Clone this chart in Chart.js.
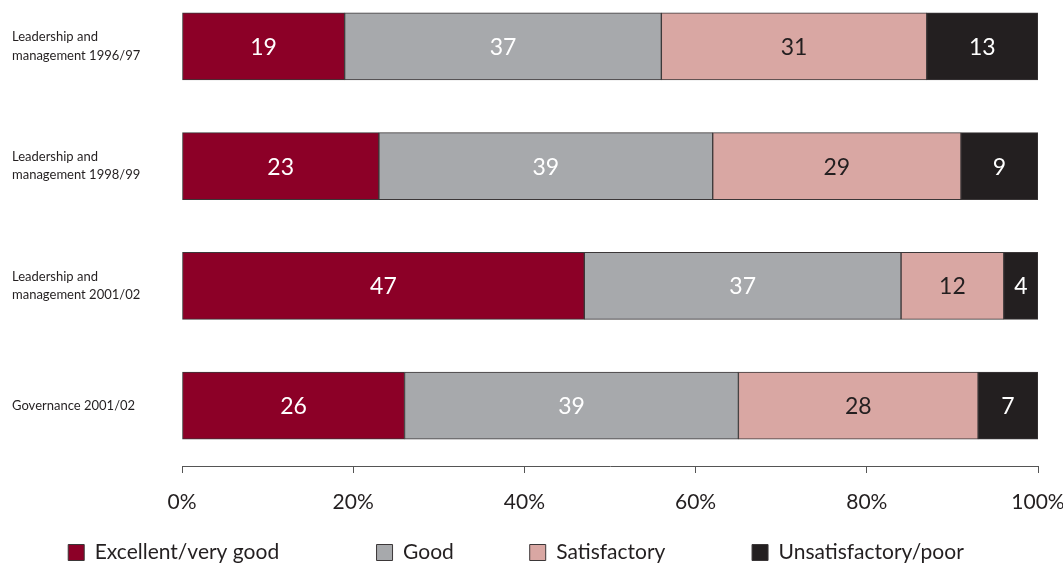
<!DOCTYPE html>
<html>
<head>
<meta charset="utf-8">
<script src="https://cdn.jsdelivr.net/npm/chart.js@4/dist/chart.umd.min.js"></script>
<style>
    html, body { margin: 0; padding: 0; background: #fff; }
    #wrap { width: 1063px; height: 567px; }
</style>
</head>
<body>
<div id="wrap"><canvas id="chart"></canvas></div>
<script>
'use strict';

// Data
const categories = [
    ['Leadership and', 'management 1996/97'],
    ['Leadership and', 'management 1998/99'],
    ['Leadership and', 'management 2001/02'],
    'Governance 2001/02',
];
const excellent = [19, 23, 47, 26];
const good = [37, 39, 37, 39];
const satisfactory = [31, 29, 12, 28];
const unsatisfactory = [13, 9, 4, 7];
const xTicks = [0, 20, 40, 60, 80, 100];

const FONT = 'Lato, "Open Sans", sans-serif';
const LEGEND_SIZE = 21;
const LEGEND_PAD = 6;
// distance from one legend box to the next one, as in the reference
const legendSteps = [306, 153, 220, 262];

const toPoints = (arr) => arr.map((v, i) => ({ x: v, y: i }));

const makeDataset = function (label, values, color, textColor) {
    return {
        label: label,
        data: toPoints(values),
        backgroundColor: color,
        borderColor: '#3b3738',
        borderWidth: 1,
        borderSkipped: false,
        barThickness: 67,
        textColor: textColor,
    };
};

// Draw the numbers inside each segment
const valueLabels = {
    id: 'valueLabels',
    afterDatasetsDraw(chart) {
        const ctx = chart.ctx;
        ctx.save();
        ctx.font = '23px ' + FONT;
        ctx.textAlign = 'center';
        ctx.textBaseline = 'middle';
        chart.data.datasets.forEach((ds, di) => {
            const meta = chart.getDatasetMeta(di);
            meta.data.forEach((bar, i) => {
                const cx = (bar.x + bar.base) / 2;
                ctx.fillStyle = ds.textColor;
                ctx.fillText(String(ds.data[i].x), cx, bar.y + 1);
            });
        });
        ctx.restore();
    },
};

// Pad legend texts with spaces so the items sit in the same columns
const legendLabels = function (chart) {
    const items = Chart.defaults.plugins.legend.labels.generateLabels(chart);
    const ctx = chart.ctx;
    ctx.save();
    ctx.font = LEGEND_SIZE + 'px ' + FONT;
    items.forEach((item, i) => {
        const target = legendSteps[i] - 16 - LEGEND_SIZE / 2 - LEGEND_PAD;
        let text = item.text;
        while (
            Math.abs(ctx.measureText(text + ' ').width - target) <
            Math.abs(ctx.measureText(text).width - target)
        ) {
            text += ' ';
        }
        item.text = text;
    });
    ctx.restore();
    return items;
};

const chart = new Chart(document.getElementById('chart'), {
    type: 'bar',
    data: {
        datasets: [
            makeDataset('Excellent/very good', excellent, '#8c0027', '#ffffff'),
            makeDataset('Good', good, '#a7a9ac', '#ffffff'),
            makeDataset('Satisfactory', satisfactory, '#d9a7a3', '#231f20'),
            makeDataset('Unsatisfactory/poor', unsatisfactory, '#231f20', '#ffffff'),
        ],
    },
    plugins: [valueLabels],
    options: {
        indexAxis: 'y',
        responsive: true,
        maintainAspectRatio: false,
        animation: false,
        layout: { padding: { left: 12, right: 0, top: 0, bottom: -6 } },
        plugins: {
            tooltip: { enabled: false },
            legend: {
                position: 'bottom',
                labels: {
                    font: { family: FONT, size: LEGEND_SIZE },
                    color: '#231f20',
                    boxWidth: 16,
                    boxHeight: 16,
                    padding: LEGEND_PAD,
                    generateLabels: legendLabels,
                },
            },
        },
        scales: {
            x: {
                stacked: true,
                min: 0,
                max: 100,
                afterBuildTicks: (axis) => {
                    axis.ticks = xTicks.map((v) => ({ value: v }));
                },
                ticks: {
                    callback: (v) => v + '%',
                    font: { family: FONT, size: 21 },
                    color: '#231f20',
                    padding: 17,
                    maxRotation: 0,
                },
                grid: {
                    drawOnChartArea: false,
                    tickLength: 7,
                    color: '#555',
                },
                border: { display: true, color: '#555' },
                afterFit: (axis) => {
                    axis.height = 70;
                    axis.paddingLeft = 0;
                    axis.paddingRight = 25;
                },
            },
            y: {
                type: 'linear',
                stacked: true,
                reverse: true,
                offset: false,
                bounds: 'data',
                min: -0.3875,
                max: 3.504,
                afterBuildTicks: (axis) => {
                    axis.ticks = categories.map((c, i) => ({ value: i }));
                },
                ticks: {
                    callback: (v) => categories[v],
                    font: { family: FONT, size: 13, lineHeight: 1.4 },
                    color: '#231f20',
                    crossAlign: 'far',
                    autoSkip: false,
                },
                grid: { display: false },
                border: { display: false },
                afterFit: (axis) => {
                    axis.width = 170;
                    axis.paddingTop = 0;
                    axis.paddingBottom = 0;
                },
            },
        },
    },
});
</script>
</body>
</html>
